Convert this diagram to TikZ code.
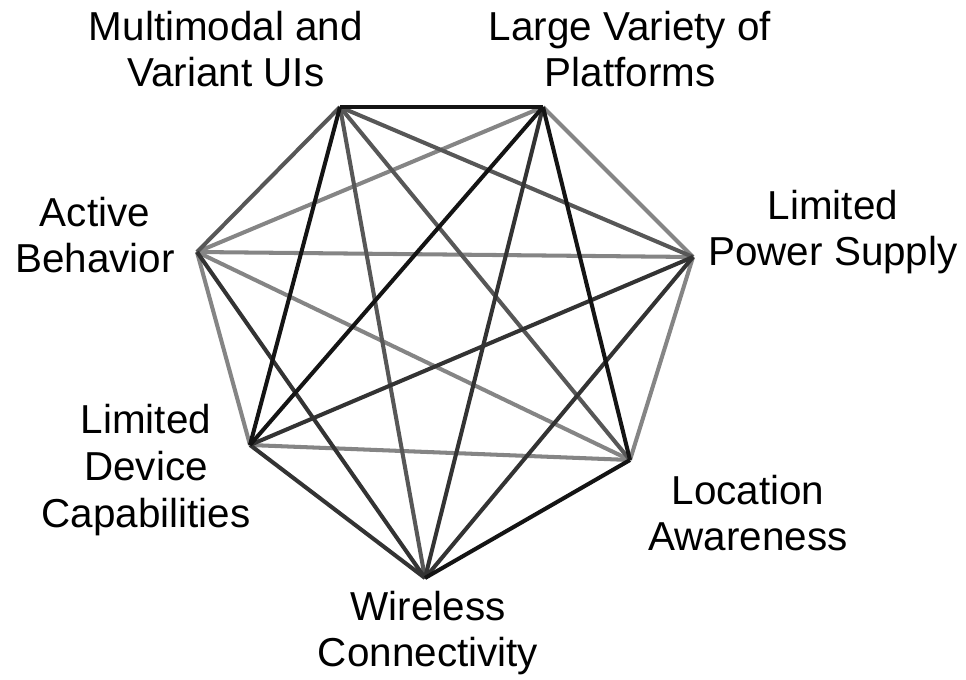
\documentclass[tikz,border=0pt]{standalone}
\usepackage{fontspec}
\setmainfont{Liberation Sans}
\begin{document}
\begin{tikzpicture}[x=0.02cm, y=-0.02cm,
      label/.style={align=center, inner sep=0pt, font=\fontsize{23}{26.5}\selectfont},
      e1/.style={line width=2.3pt, black!92},
      e2/.style={line width=2.3pt, black!80},
      e3/.style={line width=2.3pt, black!66},
      e4/.style={line width=2.3pt, black!48}]
    \useasboundingbox (0,0) rectangle (966,679);
    % corners of the heptagon
    \coordinate (multi) at (340,107);
    \coordinate (platf) at (543,107);
    \coordinate (power) at (693,257);
    \coordinate (locat) at (630,460);
    \coordinate (wirel) at (425,578);
    \coordinate (devic) at (250,445);
    \coordinate (activ) at (197,252);
    % labels
    \node[label] (lmulti) at (226,49) {Multimodal and\\Variant UIs};
    \node[label] (lplatf) at (630,49) {Large Variety of\\Platforms};
    \node[label] (lpower) at (833,232) {Limited\\Power Supply};
    \node[label] (lactiv) at (95,235) {Active\\Behavior};
    \node[label] (ldevic) at (146,470) {Limited\\Device\\Capabilities};
    \node[label] (llocat) at (748,513) {Location\\Awareness};
    \node[label] (lwirel) at (428,633) {Wireless\\Connectivity};
    % light edges first
    \draw[e4] (devic) -- (activ);
    \draw[e4] (devic) -- (locat);
    \draw[e4] (activ) -- (locat);
    \draw[e4] (platf) -- (power);
    \draw[e4] (platf) -- (activ);
    \draw[e4] (power) -- (activ);
    \draw[e4] (power) -- (locat);
    % medium edges
    \draw[e3] (multi) -- (activ);
    \draw[e3] (multi) -- (power);
    \draw[e3] (multi) -- (locat);
    \draw[e3] (multi) -- (wirel);
    % dark edges
    \draw[e2] (wirel) -- (activ);
    \draw[e2] (power) -- (wirel);
    \draw[e2] (power) -- (devic);
    \draw[e2] (wirel) -- (devic);
    \draw[e2] (platf) -- (wirel);
    % darkest edges
    \draw[e1] (locat) -- (wirel);
    \draw[e1] (platf) -- (locat);
    \draw[e1] (platf) -- (devic);
    \draw[e1] (multi) -- (devic);
    \draw[e1] (multi) -- (platf);
\end{tikzpicture}
\end{document}
